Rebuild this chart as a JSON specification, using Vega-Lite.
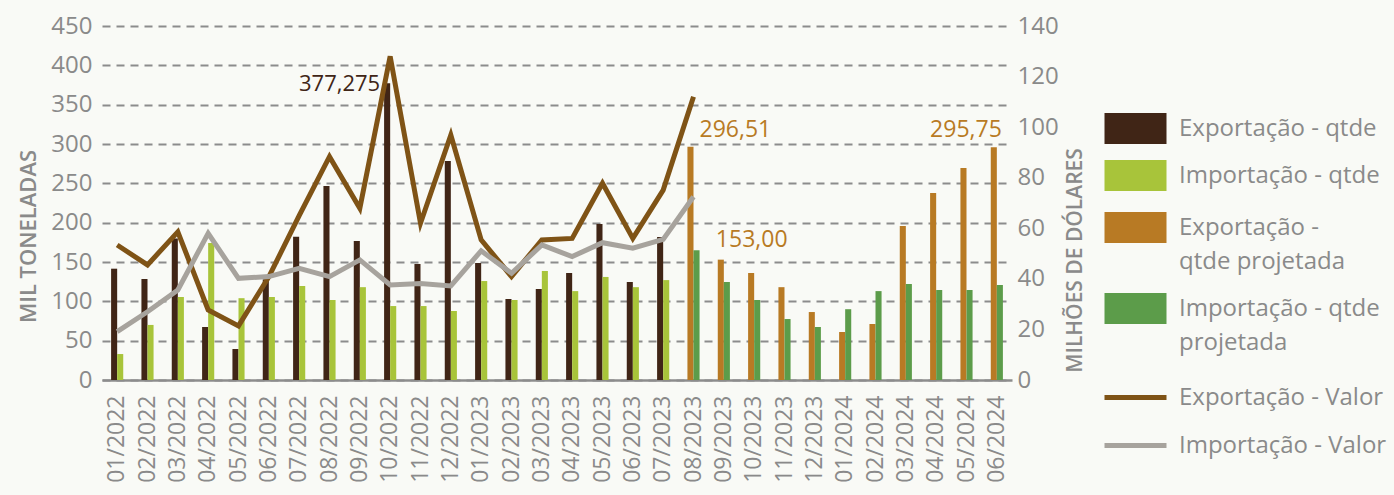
{
  "$schema": "https://vega.github.io/schema/vega-lite/v6.json",
  "width": 910,
  "height": 354,
  "autosize": {"type": "none"},
  "padding": {"left": 102, "top": 26, "right": 382, "bottom": 115},
  "background": "#f9faf6",
  "config": {
    "font": "Open Sans",
    "view": {"stroke": null},
    "axis": {"labelColor": "#8a8a8a", "labelFontSize": 24, "titleColor": "#8a8a8a", "titleFontSize": 21, "titleFontWeight": 600, "labelOverlap": false},
    "legend": {"padding": 0}
  },
  "datasets": {
    "barras": [
      {"mes": "01/2022", "tipo": "Exportação", "serie": "Exportação - qtde", "qtde": 141.5},
      {"mes": "01/2022", "tipo": "Importação", "serie": "Importação - qtde", "qtde": 33},
      {"mes": "02/2022", "tipo": "Exportação", "serie": "Exportação - qtde", "qtde": 128.4},
      {"mes": "02/2022", "tipo": "Importação", "serie": "Importação - qtde", "qtde": 70},
      {"mes": "03/2022", "tipo": "Exportação", "serie": "Exportação - qtde", "qtde": 180},
      {"mes": "03/2022", "tipo": "Importação", "serie": "Importação - qtde", "qtde": 105.5},
      {"mes": "04/2022", "tipo": "Exportação", "serie": "Exportação - qtde", "qtde": 67.4},
      {"mes": "04/2022", "tipo": "Importação", "serie": "Importação - qtde", "qtde": 174},
      {"mes": "05/2022", "tipo": "Exportação", "serie": "Exportação - qtde", "qtde": 39.4},
      {"mes": "05/2022", "tipo": "Importação", "serie": "Importação - qtde", "qtde": 104},
      {"mes": "06/2022", "tipo": "Exportação", "serie": "Exportação - qtde", "qtde": 128},
      {"mes": "06/2022", "tipo": "Importação", "serie": "Importação - qtde", "qtde": 105.5},
      {"mes": "07/2022", "tipo": "Exportação", "serie": "Exportação - qtde", "qtde": 182},
      {"mes": "07/2022", "tipo": "Importação", "serie": "Importação - qtde", "qtde": 119.5},
      {"mes": "08/2022", "tipo": "Exportação", "serie": "Exportação - qtde", "qtde": 246.6},
      {"mes": "08/2022", "tipo": "Importação", "serie": "Importação - qtde", "qtde": 101.7},
      {"mes": "09/2022", "tipo": "Exportação", "serie": "Exportação - qtde", "qtde": 176.7},
      {"mes": "09/2022", "tipo": "Importação", "serie": "Importação - qtde", "qtde": 118},
      {"mes": "10/2022", "tipo": "Exportação", "serie": "Exportação - qtde", "qtde": 377.275, "rotulo": "377,275"},
      {"mes": "10/2022", "tipo": "Importação", "serie": "Importação - qtde", "qtde": 94},
      {"mes": "11/2022", "tipo": "Exportação", "serie": "Exportação - qtde", "qtde": 147.5},
      {"mes": "11/2022", "tipo": "Importação", "serie": "Importação - qtde", "qtde": 94},
      {"mes": "12/2022", "tipo": "Exportação", "serie": "Exportação - qtde", "qtde": 278.4},
      {"mes": "12/2022", "tipo": "Importação", "serie": "Importação - qtde", "qtde": 87.7},
      {"mes": "01/2023", "tipo": "Exportação", "serie": "Exportação - qtde", "qtde": 148.7},
      {"mes": "01/2023", "tipo": "Importação", "serie": "Importação - qtde", "qtde": 125.8},
      {"mes": "02/2023", "tipo": "Exportação", "serie": "Exportação - qtde", "qtde": 103},
      {"mes": "02/2023", "tipo": "Importação", "serie": "Importação - qtde", "qtde": 101.7},
      {"mes": "03/2023", "tipo": "Exportação", "serie": "Exportação - qtde", "qtde": 115.7},
      {"mes": "03/2023", "tipo": "Importação", "serie": "Importação - qtde", "qtde": 138.6},
      {"mes": "04/2023", "tipo": "Exportação", "serie": "Exportação - qtde", "qtde": 136},
      {"mes": "04/2023", "tipo": "Importação", "serie": "Importação - qtde", "qtde": 113},
      {"mes": "05/2023", "tipo": "Exportação", "serie": "Exportação - qtde", "qtde": 198.3},
      {"mes": "05/2023", "tipo": "Importação", "serie": "Importação - qtde", "qtde": 131},
      {"mes": "06/2023", "tipo": "Exportação", "serie": "Exportação - qtde", "qtde": 124.6},
      {"mes": "06/2023", "tipo": "Importação", "serie": "Importação - qtde", "qtde": 118},
      {"mes": "07/2023", "tipo": "Exportação", "serie": "Exportação - qtde", "qtde": 181.8},
      {"mes": "07/2023", "tipo": "Importação", "serie": "Importação - qtde", "qtde": 127},
      {"mes": "08/2023", "tipo": "Exportação", "serie": "Exportação - qtde projetada", "qtde": 296.51, "rotulo": "296,51"},
      {"mes": "08/2023", "tipo": "Importação", "serie": "Importação - qtde projetada", "qtde": 165},
      {"mes": "09/2023", "tipo": "Exportação", "serie": "Exportação - qtde projetada", "qtde": 153, "rotulo": "153,00"},
      {"mes": "09/2023", "tipo": "Importação", "serie": "Importação - qtde projetada", "qtde": 124.6},
      {"mes": "10/2023", "tipo": "Exportação", "serie": "Exportação - qtde projetada", "qtde": 136},
      {"mes": "10/2023", "tipo": "Importação", "serie": "Importação - qtde projetada", "qtde": 101.7},
      {"mes": "11/2023", "tipo": "Exportação", "serie": "Exportação - qtde projetada", "qtde": 118},
      {"mes": "11/2023", "tipo": "Importação", "serie": "Importação - qtde projetada", "qtde": 77.5},
      {"mes": "12/2023", "tipo": "Exportação", "serie": "Exportação - qtde projetada", "qtde": 86.4},
      {"mes": "12/2023", "tipo": "Importação", "serie": "Importação - qtde projetada", "qtde": 67.4},
      {"mes": "01/2024", "tipo": "Exportação", "serie": "Exportação - qtde projetada", "qtde": 61},
      {"mes": "01/2024", "tipo": "Importação", "serie": "Importação - qtde projetada", "qtde": 90},
      {"mes": "02/2024", "tipo": "Exportação", "serie": "Exportação - qtde projetada", "qtde": 71.2},
      {"mes": "02/2024", "tipo": "Importação", "serie": "Importação - qtde projetada", "qtde": 113},
      {"mes": "03/2024", "tipo": "Exportação", "serie": "Exportação - qtde projetada", "qtde": 195.8},
      {"mes": "03/2024", "tipo": "Importação", "serie": "Importação - qtde projetada", "qtde": 122},
      {"mes": "04/2024", "tipo": "Exportação", "serie": "Exportação - qtde projetada", "qtde": 237.7},
      {"mes": "04/2024", "tipo": "Importação", "serie": "Importação - qtde projetada", "qtde": 114.4},
      {"mes": "05/2024", "tipo": "Exportação", "serie": "Exportação - qtde projetada", "qtde": 269.5},
      {"mes": "05/2024", "tipo": "Importação", "serie": "Importação - qtde projetada", "qtde": 114.4},
      {"mes": "06/2024", "tipo": "Exportação", "serie": "Exportação - qtde projetada", "qtde": 295.75, "rotulo": "295,75"},
      {"mes": "06/2024", "tipo": "Importação", "serie": "Importação - qtde projetada", "qtde": 120.8}
    ],
    "linhas": [
      {"mes": "01/2022", "serie": "Exportação - Valor", "valor": 53.4},
      {"mes": "02/2022", "serie": "Exportação - Valor", "valor": 45.5},
      {"mes": "03/2022", "serie": "Exportação - Valor", "valor": 58.6},
      {"mes": "04/2022", "serie": "Exportação - Valor", "valor": 27.7},
      {"mes": "05/2022", "serie": "Exportação - Valor", "valor": 21.4},
      {"mes": "06/2022", "serie": "Exportação - Valor", "valor": 40.8},
      {"mes": "07/2022", "serie": "Exportação - Valor", "valor": 65},
      {"mes": "08/2022", "serie": "Exportação - Valor", "valor": 88.3},
      {"mes": "09/2022", "serie": "Exportação - Valor", "valor": 67.9},
      {"mes": "10/2022", "serie": "Exportação - Valor", "valor": 128},
      {"mes": "11/2022", "serie": "Exportação - Valor", "valor": 62},
      {"mes": "12/2022", "serie": "Exportação - Valor", "valor": 96.9},
      {"mes": "01/2023", "serie": "Exportação - Valor", "valor": 55.4},
      {"mes": "02/2023", "serie": "Exportação - Valor", "valor": 40.9},
      {"mes": "03/2023", "serie": "Exportação - Valor", "valor": 55.4},
      {"mes": "04/2023", "serie": "Exportação - Valor", "valor": 56},
      {"mes": "05/2023", "serie": "Exportação - Valor", "valor": 77.8},
      {"mes": "06/2023", "serie": "Exportação - Valor", "valor": 56},
      {"mes": "07/2023", "serie": "Exportação - Valor", "valor": 75.1},
      {"mes": "08/2023", "serie": "Exportação - Valor", "valor": 112},
      {"mes": "01/2022", "serie": "Importação - Valor", "valor": 19.1},
      {"mes": "02/2022", "serie": "Importação - Valor", "valor": 27},
      {"mes": "03/2022", "serie": "Importação - Valor", "valor": 35.6},
      {"mes": "04/2022", "serie": "Importação - Valor", "valor": 58},
      {"mes": "05/2022", "serie": "Importação - Valor", "valor": 40.2},
      {"mes": "06/2022", "serie": "Importação - Valor", "valor": 40.9},
      {"mes": "07/2022", "serie": "Importação - Valor", "valor": 44.2},
      {"mes": "08/2022", "serie": "Importação - Valor", "valor": 40.9},
      {"mes": "09/2022", "serie": "Importação - Valor", "valor": 47.5},
      {"mes": "10/2022", "serie": "Importação - Valor", "valor": 37.6},
      {"mes": "11/2022", "serie": "Importação - Valor", "valor": 38.2},
      {"mes": "12/2022", "serie": "Importação - Valor", "valor": 37.2},
      {"mes": "01/2023", "serie": "Importação - Valor", "valor": 51.1},
      {"mes": "02/2023", "serie": "Importação - Valor", "valor": 42.2},
      {"mes": "03/2023", "serie": "Importação - Valor", "valor": 53.4},
      {"mes": "04/2023", "serie": "Importação - Valor", "valor": 48.8},
      {"mes": "05/2023", "serie": "Importação - Valor", "valor": 54.3},
      {"mes": "06/2023", "serie": "Importação - Valor", "valor": 52.1},
      {"mes": "07/2023", "serie": "Importação - Valor", "valor": 55.6},
      {"mes": "08/2023", "serie": "Importação - Valor", "valor": 72.5}
    ]
  },
  "encoding": {
    "x": {
      "field": "mes", "type": "ordinal", "sort": null,
      "scale": {"paddingInner": 0.6, "paddingOuter": 0.3},
      "axis": {"title": null, "labelAngle": -90, "labelFontSize": 23, "ticks": false, "labelPadding": 15, "domainColor": "#8c8c8c", "domainWidth": 2.5}
    }
  },
  "layer": [
    {
      "data": {"name": "barras"},
      "encoding": {
        "y": {
          "field": "qtde", "type": "quantitative",
          "scale": {"domain": [0, 450]},
          "axis": {
            "title": "MIL TONELADAS", "values": [0, 50, 100, 150, 200, 250, 300, 350, 400, 450],
            "domain": false, "ticks": false, "labelPadding": 10,
            "gridDash": [8, 6], "gridColor": "#8c8c8c", "gridWidth": 2,
            "titleFontSize": 22,
            "titleX": -74, "titleY": 210, "titleAngle": 270, "titleAlign": "center", "titleBaseline": "middle"
          }
        }
      },
      "layer": [
        {
          "mark": {"type": "bar"},
          "encoding": {
            "xOffset": {"field": "tipo", "type": "nominal", "sort": ["Exportação", "Importação"], "scale": {"paddingInner": 0, "paddingOuter": 0}},
            "color": {
              "field": "serie", "type": "nominal",
              "scale": {
                "domain": ["Exportação - qtde", "Importação - qtde", "Exportação - qtde projetada", "Importação - qtde projetada", "Exportação - Valor", "Importação - Valor"],
                "range": ["#402516", "#a8c43a", "#b87a24", "#5c9c4a", "#7f5316", "#a7a39d"]
              },
              "legend": {
                "title": null, "orient": "none", "legendX": 1018, "legendY": 87,
                "labelFontSize": 24, "labelColor": "#8a8a8a", "labelOffset": 28, "rowPadding": 16,
                "symbolSize": 961, "symbolStrokeWidth": 0,
                "labelExpr": "datum.label == 'Exportação - qtde projetada' ? ['Exportação -', 'qtde projetada'] : datum.label == 'Importação - qtde projetada' ? ['Importação - qtde', 'projetada'] : datum.label",
                "labelLimit": 400,
                "encode": {
                  "symbols": {"update": {
                    "shape": {"signal": "datum.value == 'Exportação - qtde' ? 'M-2,-1H2V1H-2Z' : datum.value == 'Importação - qtde' ? 'M-2,-1H2V1H-2ZM-2,1.32L-2,1.32' : datum.value == 'Exportação - qtde projetada' ? 'M-2,-1H2V1H-2ZM-2,3.13L-2,3.13' : datum.value == 'Importação - qtde projetada' ? 'M-2,-1H2V1H-2ZM-2,3.65L-2,3.65' : datum.value == 'Exportação - Valor' ? 'M-2,-0.16H2V0.16H-2ZM-2,-1L-2,-1M-2,1.06L-2,1.06' : 'M-2,-0.16H2V0.16H-2ZM-2,-1L-2,-1M-2,1L-2,1'"},
                    "fill": {"scale": "color", "field": "value"},
                    "stroke": {"value": "transparent"},
                    "strokeWidth": {"value": 0},
                    "opacity": {"value": 1},
                    "size": {"value": 961}
                  }},
                  "labels": {"update": {"lineHeight": {"value": 34}}}
                }
              }
            }
          }
        },
        {
          "transform": [{"filter": "datum.mes == '10/2022' && datum.tipo == 'Exportação'"}],
          "mark": {"type": "text", "align": "right", "baseline": "middle", "dx": -10, "dy": 1, "fontSize": 22, "color": "#402516"},
          "encoding": {"text": {"field": "rotulo"}}
        },
        {
          "transform": [{"filter": "datum.mes == '08/2023' && datum.tipo == 'Exportação'"}],
          "mark": {"type": "text", "align": "left", "baseline": "middle", "dx": 6, "dy": -17, "fontSize": 23, "color": "#b87a24"},
          "encoding": {"text": {"field": "rotulo"}}
        },
        {
          "transform": [{"filter": "datum.mes == '09/2023' && datum.tipo == 'Exportação'"}],
          "mark": {"type": "text", "align": "left", "baseline": "middle", "dx": -8, "dy": -20, "fontSize": 23, "color": "#b87a24"},
          "encoding": {"text": {"field": "rotulo"}}
        },
        {
          "transform": [{"filter": "datum.mes == '06/2024' && datum.tipo == 'Exportação'"}],
          "mark": {"type": "text", "align": "right", "baseline": "middle", "dx": 5, "dy": -17, "fontSize": 23, "color": "#b87a24"},
          "encoding": {"text": {"field": "rotulo"}}
        }
      ]
    },
    {
      "data": {"name": "linhas"},
      "mark": {"type": "line", "strokeWidth": 5, "strokeJoin": "miter"},
      "encoding": {
        "y": {
          "field": "valor", "type": "quantitative",
          "scale": {"domain": [0, 140]},
          "axis": {
            "orient": "right", "title": "MILHÕES DE DÓLARES", "values": [0, 20, 40, 60, 80, 100, 120, 140],
            "domain": false, "ticks": false, "grid": false, "labelPadding": 5,
            "titleX": 63, "titleY": 234, "titleAngle": 270, "titleAlign": "center", "titleBaseline": "middle"
          }
        },
        "color": {"field": "serie", "type": "nominal"}
      }
    }
  ],
  "resolve": {"scale": {"y": "independent"}}
}
